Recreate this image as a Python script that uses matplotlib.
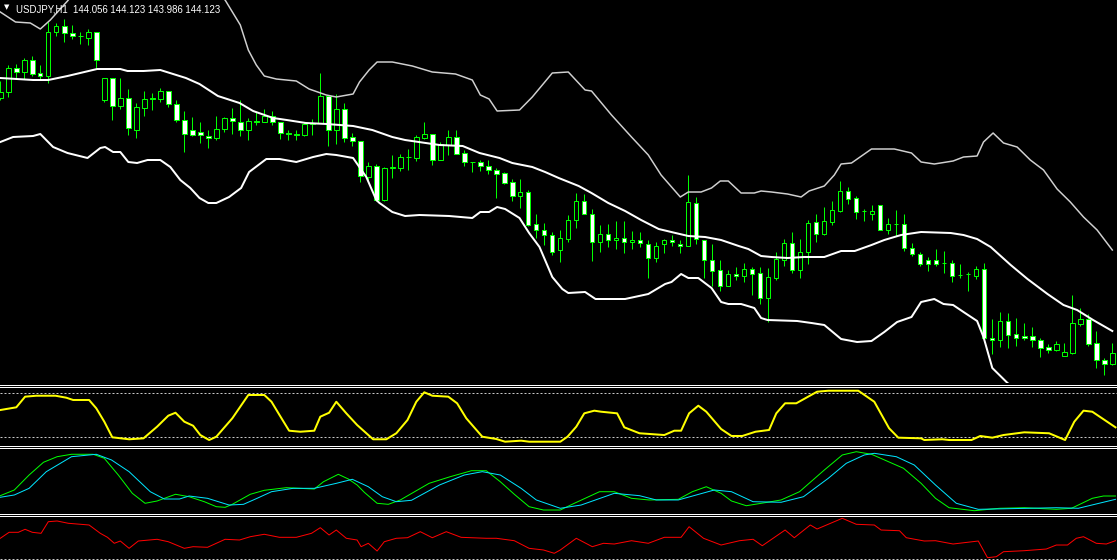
import matplotlib
matplotlib.use("Agg")
import matplotlib.pyplot as plt
from matplotlib.lines import Line2D
import numpy as np

# USDJPY H1 - candles + bollinger bands, three oscillator windows below
# price values are read off the screen in chart rows (axis is inverted, bigger = lower price)

opens = [98, 92, 68, 72, 60, 73, 76, 32, 26, 33, 36, 38, 32, 100, 78, 106, 98, 130, 108, 98,
         99, 91, 104, 120, 130, 132, 136, 138, 129, 118, 122, 130, 121, 122, 116, 122, 133, 134, 135, 124,
         123, 96, 130, 109, 137, 141, 177, 166, 200, 168, 168, 157, 158, 138, 134, 160, 145, 137, 153, 162,
         162, 166, 170, 173, 182, 196, 192, 224, 230, 235, 250, 239, 220, 201, 214, 242, 234, 240, 238, 242,
         240, 244, 258, 244, 240, 244, 246, 203, 240, 260, 270, 286, 274, 276, 269, 273, 298, 278, 260, 243,
         270, 252, 222, 234, 222, 211, 191, 198, 211, 214, 205, 230, 224, 224, 248, 254, 260, 260, 263, 263,
         275, 274, 276, 269, 338, 340, 321, 334, 336, 336, 340, 347, 350, 356, 353, 324, 319, 343, 360, 364]
highs = [81, 65, 64, 58, 56, 65, 22, 23, 19, 25, 32, 29, 32, 78, 78, 78, 89, 103, 91, 93,
         88, 91, 100, 111, 117, 122, 130, 116, 117, 108, 100, 118, 112, 109, 111, 122, 130, 130, 122, 119,
         73, 95, 94, 103, 133, 141, 162, 164, 167, 155, 154, 149, 135, 122, 134, 142, 130, 130, 150, 162,
         160, 160, 168, 172, 179, 179, 190, 214, 223, 232, 230, 215, 193, 194, 209, 225, 224, 221, 221, 231,
         232, 240, 242, 239, 235, 240, 175, 197, 240, 244, 260, 270, 267, 263, 267, 267, 268, 252, 239, 232,
         239, 220, 214, 207, 201, 181, 187, 196, 209, 205, 205, 218, 210, 214, 243, 252, 257, 249, 251, 260,
         264, 272, 266, 263, 319, 312, 313, 318, 323, 327, 338, 344, 341, 343, 295, 308, 314, 331, 358, 343]
lows = [100, 97, 79, 79, 76, 80, 83, 36, 42, 39, 44, 45, 68, 102, 120, 109, 135, 138, 116, 110,
        102, 107, 122, 152, 136, 143, 148, 140, 132, 134, 136, 140, 125, 122, 125, 139, 140, 140, 136, 135,
        123, 146, 144, 142, 146, 182, 180, 201, 201, 178, 171, 170, 161, 139, 165, 160, 155, 154, 166, 172,
        171, 174, 198, 184, 201, 208, 226, 238, 245, 255, 262, 242, 228, 214, 261, 252, 247, 249, 253, 249,
        247, 278, 262, 253, 246, 253, 246, 244, 278, 286, 291, 286, 280, 282, 295, 304, 322, 280, 266, 273,
        278, 264, 242, 235, 225, 212, 204, 219, 221, 220, 230, 234, 236, 251, 256, 266, 271, 266, 273, 282,
        278, 291, 279, 338, 354, 347, 348, 346, 340, 347, 357, 353, 351, 356, 354, 326, 346, 368, 375, 365]
closes = [92, 68, 72, 60, 74, 76, 32, 26, 33, 36, 36, 32, 60, 78, 106, 98, 128, 107, 99, 99,
          91, 104, 120, 134, 135, 135, 138, 129, 118, 121, 130, 121, 122, 116, 122, 133, 134, 135, 124, 123,
          96, 130, 109, 138, 141, 176, 166, 200, 168, 167, 157, 157, 137, 134, 160, 144, 137, 154, 162, 162,
          166, 170, 174, 183, 196, 192, 225, 230, 235, 252, 238, 220, 201, 214, 242, 234, 240, 238, 242, 240,
          243, 258, 246, 240, 242, 246, 202, 239, 260, 271, 286, 274, 276, 269, 274, 298, 277, 259, 243, 270,
          252, 223, 234, 221, 210, 191, 199, 212, 211, 211, 230, 224, 224, 248, 254, 264, 264, 264, 263, 276,
          275, 274, 269, 338, 340, 321, 335, 338, 338, 340, 348, 350, 344, 352, 323, 319, 344, 360, 364, 353]

# bollinger bands, (bar, level) samples along each line
upper_band = [(0, 12), (1.9, 22), (3.75, 23), (5.0, 29), (6.25, 20), (8.4, 1), (10, -15), (13.75, -35),
              (18.75, -45), (23.75, -30), (26.9, -8), (28.1, 0), (30.0, 25), (31.0, 50), (32.0, 65),
              (33.0, 76), (34.5, 79), (37.0, 81), (38.6, 89), (40.75, 95), (42.0, 97), (44.1, 94),
              (44.9, 82), (46.1, 70), (47.1, 62), (49.0, 62), (51.5, 66), (54.0, 72), (56.9, 74),
              (59.0, 80), (60.0, 95), (61.1, 99), (62.1, 111), (64.9, 110), (66.5, 97), (69.0, 73),
              (71.0, 72), (73.1, 90), (73.9, 91), (76.4, 115), (78.9, 137), (81.0, 155), (82.6, 175),
              (85.0, 197), (86.0, 192), (87.6, 192), (88.9, 188), (90.0, 181), (91.0, 181), (92.6, 193),
              (94.25, 193), (95.1, 191), (96.4, 192), (98.4, 194), (100.1, 197), (101.1, 191),
              (103.0, 186), (104.25, 175), (105.1, 164), (106.4, 163), (108.9, 149), (111.75, 149),
              (113.9, 153), (115.1, 162), (116.75, 164), (119.1, 161), (120.4, 157), (122.1, 156),
              (122.9, 142), (124.1, 133), (125.4, 143), (127.1, 147), (128.75, 160), (130.4, 170),
              (132.1, 189), (133.75, 202), (135.4, 217), (137.1, 230), (139.0, 250)]
mid_band = [(0.0, 78), (4.1, 80), (6.0, 80), (8.4, 76), (12.1, 69), (15.0, 69), (15.9, 71), (17.9, 71),
            (20.0, 70), (21.6, 74), (23.2, 78), (24.9, 84), (27.2, 96), (29.9, 103), (31.6, 111),
            (34.1, 118), (35.8, 120), (38.2, 123), (40.8, 124), (44.1, 126), (46.5, 130), (49.0, 137),
            (50.6, 140), (54.9, 145), (57.8, 146), (59.9, 153), (62.4, 158), (64.0, 163), (66.5, 167),
            (68.1, 172), (69.8, 178), (72.3, 186), (73.9, 193), (76.0, 203), (78.1, 211), (80.1, 220),
            (82.3, 229), (84.4, 233), (86.0, 236), (88.1, 237), (90.1, 240), (92.3, 246), (93.5, 249),
            (95.1, 256), (96.4, 257), (98.4, 258), (100.5, 257), (103.0, 257), (105.1, 251), (106.8, 251),
            (108.9, 245), (110.5, 240), (112.6, 235), (115.1, 232), (118.8, 233), (120.4, 235),
            (122.1, 239), (123.8, 247), (126.3, 265), (128.4, 279), (130.9, 294), (132.9, 305),
            (134.6, 310), (136.6, 320), (139.0, 331)]
lower_band = [(0, 142), (1.6, 137), (4.1, 136), (5.0, 134), (6.6, 147), (8.4, 153), (10.9, 158), (12.5, 148),
              (13.1, 147), (14.1, 152), (15.0, 152), (16.0, 162), (17.1, 163), (18.4, 160), (20.0, 160),
              (21.25, 167), (22.5, 180), (23.75, 188), (24.9, 198), (26.0, 203), (27.0, 203), (28.6, 197),
              (30.1, 188), (31.1, 172), (33.25, 159), (34.9, 159), (37.0, 162), (39.1, 157), (40.75, 154),
              (42.0, 155), (44.1, 158), (45.75, 177), (47.0, 200), (47.4, 203), (49.0, 212), (50.6, 216),
              (52.4, 215), (56.1, 216), (59.0, 218), (60.0, 212), (61.1, 212), (62.1, 207), (63.1, 209),
              (64.9, 218), (66.1, 233), (67.4, 247), (69.0, 277), (70.25, 289), (71.0, 293), (73.1, 292),
              (74.4, 299), (78.1, 299), (81.0, 294), (83.1, 284), (83.9, 282), (85.1, 274), (86.0, 278),
              (87.25, 278), (88.9, 288), (90.1, 302), (91.0, 304), (92.6, 304), (94.25, 308), (95.1, 318),
              (95.9, 320), (99.6, 321), (101.4, 323), (103.0, 325), (105.1, 339), (107.1, 342),
              (108.9, 341), (110.5, 332), (112.1, 322), (113.9, 317), (115.1, 302), (116.75, 299),
              (117.9, 304), (119.1, 305), (120.4, 312), (122.1, 321), (122.9, 337), (124.0, 368),
              (125.9, 383), (128.75, 400), (133.75, 410), (139.0, 415)]

# window 1 - yellow oscillator, levels 80 / 20
yellow = [(0.0, 57.2), (2.0, 60.9), (3.1, 75.4), (4.5, 76.7), (6.9, 76.7), (8.25, 74.0), (9.1, 70.9),
          (11.1, 70.9), (12.0, 59.5), (13.0, 41.3), (14.0, 20.0), (16.1, 17.3), (17.9, 18.6), (19.6, 34.5),
          (21.0, 49.5), (21.9, 53.5), (23.0, 41.3), (24.1, 35.8), (25.0, 23.1), (26.1, 16.3), (27.0, 20.8),
          (29.0, 45.9), (31.0, 77.7), (33.0, 77.7), (33.9, 68.5), (34.9, 50.4), (36.1, 29.0), (37.5, 27.6),
          (39.25, 29.0), (40.0, 48.1), (41.1, 53.5), (42.0, 68.5), (43.25, 52.7), (44.6, 36.8),
          (46.6, 17.3), (48.25, 17.3), (49.5, 25.5), (50.9, 43.6), (52.0, 68.5), (53.0, 81.4),
          (54.0, 76.7), (56.0, 75.4), (57.1, 66.4), (58.25, 45.9), (60.25, 20.8), (62.0, 17.7),
          (63.1, 14.0), (65.1, 15.4), (66.1, 14.0), (70.0, 14.0), (70.9, 20.8), (72.0, 34.5), (73.0, 52.7),
          (74.25, 56.3), (75.1, 54.9), (77.1, 52.7), (78.0, 33.6), (79.9, 25.5), (83.0, 23.1),
          (84.25, 29.0), (85.1, 29.0), (86.1, 52.7), (87.25, 63.1), (88.25, 54.9), (90.1, 31.3),
          (91.4, 21.8), (92.75, 21.8), (94.4, 27.6), (96.1, 30.0), (97.0, 52.7), (98.1, 66.4),
          (99.5, 66.4), (102.1, 82.2), (103.5, 83.5), (107.25, 83.5), (109.25, 68.5), (111.1, 32.3),
          (112.25, 19.5), (115.1, 18.6), (115.5, 16.3), (117.75, 17.3), (118.6, 16.3), (121.4, 16.3),
          (122.5, 21.8), (124.0, 19.5), (125.4, 23.1), (128.0, 26.8), (131.1, 25.5), (133.1, 16.3),
          (134.25, 41.3), (135.4, 56.3), (136.5, 54.9), (139.4, 33.6)]

# window 2 - main / signal lines
osc_main = [(0.0, 25.5), (1.75, 34.4), (3.6, 57.8), (5.4, 77.7), (7.1, 86.4), (8.9, 90.2), (11.6, 90.2),
            (13.0, 83.9), (14.75, 57.8), (16.5, 29.2), (18.1, 13.6), (19.6, 17.2), (21.9, 27.7),
            (23.6, 23.9), (25.5, 16.1), (27.0, 8.3), (28.1, 7.3), (29.0, 12.0), (31.25, 27.7), (33.0, 33.9),
            (35.75, 38.0), (39.25, 35.9), (40.4, 47.3), (42.25, 58.9), (43.5, 51.6), (44.6, 42.2),
            (45.5, 30.8), (47.1, 13.6), (48.5, 12.0), (50.0, 18.8), (53.6, 44.8), (56.25, 55.2),
            (58.9, 64.5), (60.75, 64.5), (62.5, 47.3), (64.25, 27.7), (66.1, 8.3), (67.9, 3.1), (70.0, 3.1),
            (71.75, 13.6), (74.9, 31.7), (76.75, 31.7), (78.9, 21.4), (81.1, 18.8), (84.75, 19.8),
            (86.5, 31.7), (88.25, 39.5), (90.1, 29.2), (91.4, 17.2), (93.25, 9.8), (95.9, 15.2),
            (97.6, 18.8), (99.9, 31.7), (103.0, 65.6), (105.25, 89.1), (107.0, 94.2), (108.9, 90.2),
            (112.9, 68.3), (115.1, 44.8), (116.9, 21.4), (118.6, 6.7), (121.75, 2.0), (124.9, 5.8),
            (128.0, 6.7), (132.0, 4.2), (133.9, 5.8), (136.5, 21.4), (137.9, 25.0), (139.4, 25.0)]
osc_signal = [(0.0, 23.0), (1.75, 26.6), (3.6, 37.0), (5.75, 63.0), (8.9, 86.4), (12.0, 90.2), (13.9, 81.3),
              (16.1, 63.0), (18.75, 31.7), (20.5, 20.3), (22.4, 20.3), (23.6, 25.0), (25.9, 21.4),
              (28.6, 10.9), (30.4, 12.0), (32.1, 21.4), (33.9, 31.7), (36.6, 37.0), (39.25, 37.0),
              (42.0, 44.8), (44.0, 51.1), (46.0, 39.5), (47.75, 23.9), (49.5, 16.1), (51.4, 18.3),
              (54.9, 42.2), (58.0, 57.8), (60.25, 63.0), (62.5, 57.8), (65.1, 37.0), (67.0, 18.8),
              (70.0, 5.8), (72.6, 10.9), (76.75, 29.2), (79.9, 25.5), (82.0, 18.8), (84.75, 18.8),
              (87.0, 26.6), (89.25, 34.4), (91.4, 31.7), (94.1, 16.1), (97.6, 15.2), (100.4, 23.9),
              (103.5, 52.7), (105.75, 76.1), (108.0, 89.1), (109.25, 91.7), (112.0, 86.4), (114.25, 73.4),
              (116.9, 42.2), (119.5, 13.6), (122.25, 4.2), (132.0, 6.7), (134.75, 5.8), (139.4, 19.8)]

# window 3 - red line
red = [(0.0, 46.4), (1.1, 60.0), (2.25, 60.0), (3.1, 66.8), (4.0, 60.0), (5.1, 57.7), (6.0, 84.1),
       (7.1, 85.7), (8.5, 80.5), (11.1, 76.6), (12.5, 57.7), (13.4, 48.6), (14.25, 35.0), (15.0, 40.2),
       (16.1, 23.6), (17.25, 40.2), (19.6, 44.1), (21.0, 38.6), (23.0, 23.6), (24.1, 27.3), (25.9, 25.9),
       (28.1, 44.1), (29.9, 42.5), (31.25, 50.0), (33.0, 55.5), (34.9, 48.6), (37.0, 48.6), (38.9, 57.7),
       (40.0, 70.5), (41.1, 53.9), (42.0, 65.2), (43.25, 46.4), (44.6, 42.5), (45.1, 27.3), (46.0, 35.0),
       (47.1, 17.5), (48.0, 38.6), (49.5, 46.4), (50.9, 47.7), (52.5, 61.4), (54.0, 47.7), (55.75, 61.4),
       (57.6, 48.6), (60.75, 46.4), (62.0, 46.4), (64.25, 40.9), (66.1, 23.6), (67.9, 19.8), (69.25, 12.3),
       (70.0, 19.8), (72.0, 46.4), (74.0, 27.3), (75.4, 35.0), (76.75, 33.4), (78.9, 40.9), (81.0, 35.0),
       (83.0, 48.6), (85.1, 48.6), (86.1, 72.7), (87.9, 46.4), (90.1, 31.1), (92.4, 40.9), (94.1, 44.1),
       (95.25, 29.5), (98.1, 65.2), (99.25, 47.7), (101.25, 76.6), (102.1, 67.5), (105.25, 91.8),
       (107.0, 78.2), (109.25, 76.6), (110.1, 65.2), (112.4, 63.6), (113.25, 47.7), (115.5, 40.2),
       (116.9, 40.9), (119.1, 33.4), (122.25, 40.2), (123.4, 2.3), (124.5, 4.5), (125.4, 15.9),
       (128.0, 18.2), (130.75, 22.0), (132.0, 31.1), (133.4, 31.1), (134.5, 46.4), (135.4, 50.0),
       (137.0, 35.0), (138.25, 33.4), (139.4, 40.9)]

header = "USDJPY,H1  144.056 144.123 143.986 144.123"

GREEN = '#00ff00'
PX = 0.72  # one pixel in points at dpi 100
W, H = 1117, 560
XLIM = (-0.0375, 139.5875)

fig = plt.figure(figsize=(W / 100, H / 100), dpi=100, facecolor='black')


def window(top, bottom):
    a = fig.add_axes([0, 1 - bottom / H, 1, (bottom - top) / H])
    a.set_facecolor('black')
    a.set_xlim(*XLIM)
    a.axis('off')
    return a


def xy(pairs):
    arr = np.array(pairs, dtype=float)
    return arr[:, 0], arr[:, 1]


# ---- main chart
ax = window(0, 383)
ax.set_ylim(383, 0)

o = np.array(opens)
c = np.array(closes)
x = np.arange(len(o))
bear = c > o
ax.vlines(x, highs, lows, color=GREEN, lw=PX, zorder=2)
ax.bar(x, np.abs(c - o), bottom=np.minimum(o, c), width=0.55,
       color=np.where(bear, 'white', 'black'), edgecolor=GREEN, linewidth=PX, zorder=3)

bx, by = xy(upper_band)
ax.plot(bx, by, color='#d0d0d0', lw=1.5 * PX, zorder=4)
bx, by = xy(mid_band)
ax.plot(bx, by, color='white', lw=2 * PX, zorder=4)
bx, by = xy(lower_band)
ax.plot(bx, by, color='white', lw=2 * PX, zorder=4)

fig.text(7 / W, 1 - 7.5 / H, '\u25bc', color='white', fontsize=5, ha='center', va='center',
         family='DejaVu Sans')
fig.text(16 / W, 1 - 12 / H, header, color='white', fontsize=6.9, family='Liberation Sans',
         va='baseline', ha='left')

# ---- window 1
ax1 = window(387, 445)
ax1.set_ylim(9.5, 88.6)
for lev in (80, 20):
    ax1.axhline(lev, color='#c8c8c8', lw=PX, dashes=(2, 2))
yx, yv = xy(yellow)
ax1.plot(yx, yv, color='#ffff00', lw=2 * PX)

# ---- window 2
ax2 = window(448, 513)
ax2.set_ylim(-1.56, 100)
mx, mv = xy(osc_main)
sx, sv = xy(osc_signal)
ax2.plot(mx, mv, color='#00ff00', lw=PX)
ax2.plot(sx, sv, color='#00e5ff', lw=PX)

# ---- window 3
ax3 = window(516, 560)
ax3.set_ylim(-2.95, 97.05)
ax3.axhline(0, color='#c8c8c8', lw=PX, dashes=(2, 2))
rx, rv = xy(red)
ax3.plot(rx, rv, color='#ff0000', lw=PX)

# window borders (double white lines)
for row in (384, 386, 445, 447, 513, 515):
    yf = 1 - (row + 0.5) / H
    fig.add_artist(Line2D([0, 1], [yf, yf], transform=fig.transFigure, color='white', lw=PX))

plt.savefig('out.png', dpi=100, facecolor='black')
